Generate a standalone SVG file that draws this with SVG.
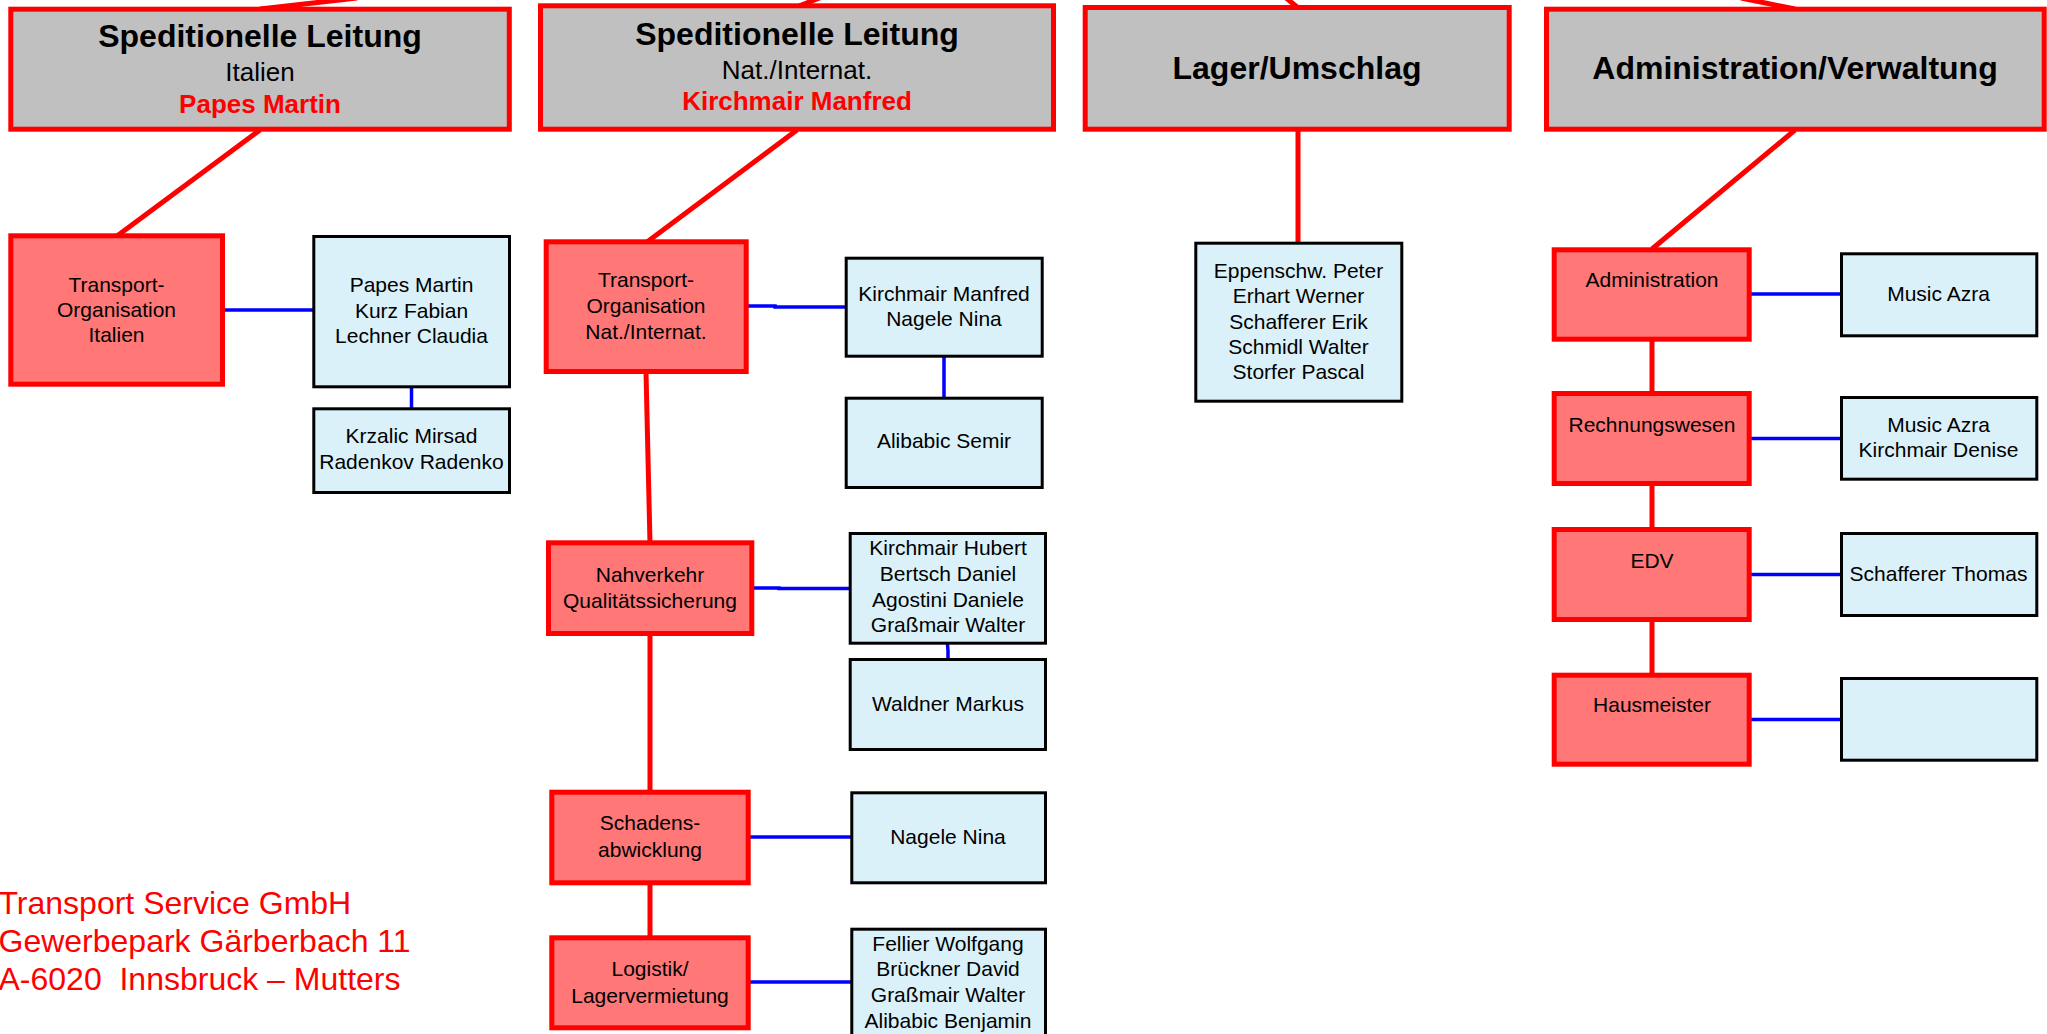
<svg xmlns="http://www.w3.org/2000/svg" width="2047" height="1034" viewBox="0 0 2047 1034">
<style>
text{font-family:"Liberation Sans",Arial,sans-serif;text-anchor:middle;fill:#000}
.head{fill:#C0C0C0;stroke:#FF0000;stroke-width:5}
.unit{fill:#FF7777;stroke:#FF0000;stroke-width:5}
.ppl{fill:#DAF1F9;stroke:#000;stroke-width:3}
.h1{font-size:32px;font-weight:bold}
.h2{font-size:26px}
.h3{font-size:26px;font-weight:bold;fill:#FF0000}
.t{font-size:21px}
.red{stroke:#FF0000;stroke-width:5;fill:none}
.blue{stroke:#0000FF;stroke-width:3.5;fill:none}
.addr{font-size:32px;fill:#FF0000;text-anchor:start;white-space:pre}
</style>
<rect width="2047" height="1034" fill="#FFFFFF"/>
<g id="connectors">
<line class="red" x1="260" y1="9" x2="357" y2="-2"/>
<line class="red" x1="799" y1="6" x2="822" y2="-3"/>
<line class="red" x1="1297" y1="7" x2="1285" y2="-3"/>
<line class="red" x1="1795" y1="9" x2="1741" y2="-2"/>
<line class="red" x1="260" y1="130" x2="117" y2="236"/>
<line class="red" x1="797" y1="130" x2="647" y2="242"/>
<line class="red" x1="1298" y1="130" x2="1298" y2="243"/>
<line class="red" x1="1795" y1="130" x2="1652" y2="249"/>
<line class="red" x1="646" y1="372" x2="650" y2="543"/>
<line class="red" x1="650" y1="634" x2="650" y2="792"/>
<line class="red" x1="650" y1="883" x2="650" y2="937"/>
<line class="red" x1="1652" y1="340" x2="1652" y2="393"/>
<line class="red" x1="1652" y1="484" x2="1652" y2="529"/>
<line class="red" x1="1652" y1="620" x2="1652" y2="675"/>
<line class="blue" x1="224" y1="310" x2="314" y2="310"/>
<line class="blue" x1="411.5" y1="388" x2="411.5" y2="408"/>
<path class="blue" d="M748 306 H775 V307 H846"/>
<line class="blue" x1="944" y1="357" x2="944" y2="398"/>
<path class="blue" d="M753 588 H779 V588.5 H850"/>
<path class="blue" d="M947.5 644 L948 651 L948 659"/>
<line class="blue" x1="750" y1="837" x2="852" y2="837"/>
<line class="blue" x1="750" y1="982" x2="852" y2="982"/>
<line class="blue" x1="1751" y1="294" x2="1841" y2="294"/>
<line class="blue" x1="1751" y1="438.5" x2="1841" y2="438.5"/>
<line class="blue" x1="1751" y1="574.5" x2="1841" y2="574.5"/>
<line class="blue" x1="1751" y1="719.5" x2="1841" y2="719.5"/>
</g>
<g id="head-italien">
<rect class="head" x="10.8" y="9.2" width="498.5" height="120"/>
<text class="h1" x="260" y="47">Speditionelle Leitung</text>
<text class="h2" x="260" y="81">Italien</text>
<text class="h3" x="260" y="112.5">Papes Martin</text>
</g>
<g id="head-national">
<rect class="head" x="540.5" y="5.8" width="513" height="123.4"/>
<text class="h1" x="797" y="45">Speditionelle Leitung</text>
<text class="h2" x="797" y="79">Nat./Internat.</text>
<text class="h3" x="797" y="110">Kirchmair Manfred</text>
</g>
<g id="head-lager">
<rect class="head" x="1085.2" y="7.5" width="424" height="121.7"/>
<text class="h1" x="1297" y="79">Lager/Umschlag</text>
</g>
<g id="head-admin">
<rect class="head" x="1546.5" y="9.2" width="497.7" height="120"/>
<text class="h1" x="1795" y="79">Administration/Verwaltung</text>
</g>
<g id="unit-to-italien">
<rect class="unit" x="10.8" y="235.8" width="211.7" height="148.4"/>
<text class="t" x="116.5" y="291.7">Transport-</text>
<text class="t" x="116.5" y="316.7">Organisation</text>
<text class="t" x="116.5" y="341.7">Italien</text>
</g>
<g id="ppl-italien-1">
<rect class="ppl" x="313.8" y="236.5" width="195.7" height="150.3"/>
<text class="t" x="411.5" y="292.3">Papes Martin</text>
<text class="t" x="411.5" y="317.7">Kurz Fabian</text>
<text class="t" x="411.5" y="342.7">Lechner Claudia</text>
</g>
<g id="ppl-italien-2">
<rect class="ppl" x="313.8" y="408.8" width="195.7" height="83.7"/>
<text class="t" x="411.5" y="443.3">Krzalic Mirsad</text>
<text class="t" x="411.5" y="469.3">Radenkov Radenko</text>
</g>
<g id="unit-to-national">
<rect class="unit" x="546.2" y="241.8" width="200" height="129.7"/>
<text class="t" x="646" y="287">Transport-</text>
<text class="t" x="646" y="313">Organisation</text>
<text class="t" x="646" y="339">Nat./Internat.</text>
</g>
<g id="ppl-national-1">
<rect class="ppl" x="846.2" y="258.2" width="196" height="98"/>
<text class="t" x="944" y="301">Kirchmair Manfred</text>
<text class="t" x="944" y="325.7">Nagele Nina</text>
</g>
<g id="ppl-national-2">
<rect class="ppl" x="846.2" y="398.2" width="196" height="89.3"/>
<text class="t" x="944" y="448.3">Alibabic Semir</text>
</g>
<g id="unit-nahverkehr">
<rect class="unit" x="548.5" y="542.8" width="203.3" height="90.7"/>
<text class="t" x="650" y="582">Nahverkehr</text>
<text class="t" x="650" y="607.7">Qualitätssicherung</text>
</g>
<g id="ppl-nahverkehr-1">
<rect class="ppl" x="850.2" y="533.5" width="195.3" height="109.7"/>
<text class="t" x="948" y="555.3">Kirchmair Hubert</text>
<text class="t" x="948" y="581">Bertsch Daniel</text>
<text class="t" x="948" y="607">Agostini Daniele</text>
<text class="t" x="948" y="632">Graßmair Walter</text>
</g>
<g id="ppl-nahverkehr-2">
<rect class="ppl" x="850.2" y="659.5" width="195.3" height="90"/>
<text class="t" x="948" y="711">Waldner Markus</text>
</g>
<g id="unit-schaden">
<rect class="unit" x="551.8" y="792.2" width="196.4" height="90.6"/>
<text class="t" x="650" y="830.3">Schadens-</text>
<text class="t" x="650" y="857">abwicklung</text>
</g>
<g id="ppl-schaden">
<rect class="ppl" x="851.8" y="792.8" width="193.7" height="90"/>
<text class="t" x="948" y="844.3">Nagele Nina</text>
</g>
<g id="unit-logistik">
<rect class="unit" x="551.8" y="937.8" width="196.4" height="90"/>
<text class="t" x="650" y="976">Logistik/</text>
<text class="t" x="650" y="1002.7">Lagervermietung</text>
</g>
<g id="ppl-logistik">
<rect class="ppl" x="851.8" y="929.2" width="193.7" height="110"/>
<text class="t" x="948" y="951.3">Fellier Wolfgang</text>
<text class="t" x="948" y="976">Brückner David</text>
<text class="t" x="948" y="1002">Graßmair Walter</text>
<text class="t" x="948" y="1028">Alibabic Benjamin</text>
</g>
<g id="ppl-lager">
<rect class="ppl" x="1195.8" y="243.2" width="206" height="158"/>
<text class="t" x="1298.5" y="277.7">Eppenschw. Peter</text>
<text class="t" x="1298.5" y="303.3">Erhart Werner</text>
<text class="t" x="1298.5" y="329">Schafferer Erik</text>
<text class="t" x="1298.5" y="354">Schmidl Walter</text>
<text class="t" x="1298.5" y="379.3">Storfer Pascal</text>
</g>
<g id="unit-administration">
<rect class="unit" x="1554.2" y="249.8" width="195" height="89.4"/>
<text class="t" x="1652" y="287.3">Administration</text>
</g>
<g id="unit-rechnungswesen">
<rect class="unit" x="1554.2" y="393.5" width="195" height="90"/>
<text class="t" x="1652" y="431.7">Rechnungswesen</text>
</g>
<g id="unit-edv">
<rect class="unit" x="1554.2" y="529.5" width="195" height="90"/>
<text class="t" x="1652" y="567.7">EDV</text>
</g>
<g id="unit-hausmeister">
<rect class="unit" x="1554.2" y="675.2" width="195" height="89"/>
<text class="t" x="1652" y="712.3">Hausmeister</text>
</g>
<g id="ppl-administration">
<rect class="ppl" x="1841.5" y="253.8" width="195.3" height="82"/>
<text class="t" x="1938.5" y="300.7">Music Azra</text>
</g>
<g id="ppl-rechnungswesen">
<rect class="ppl" x="1841.5" y="397.5" width="195.3" height="81.7"/>
<text class="t" x="1938.5" y="431.7">Music Azra</text>
<text class="t" x="1938.5" y="456.7">Kirchmair Denise</text>
</g>
<g id="ppl-edv">
<rect class="ppl" x="1841.5" y="533.5" width="195.3" height="82"/>
<text class="t" x="1938.5" y="581">Schafferer Thomas</text>
</g>
<g id="ppl-hausmeister">
<rect class="ppl" x="1841.5" y="678.5" width="195.3" height="81.7"/>
</g>
<g id="address">
<text class="addr" x="-1.5" y="914.3">Transport Service GmbH</text>
<text class="addr" x="-1.5" y="952.3">Gewerbepark Gärberbach 11</text>
<text class="addr" x="-1.5" y="990" xml:space="preserve">A-6020  Innsbruck – Mutters</text>
</g>
</svg>
